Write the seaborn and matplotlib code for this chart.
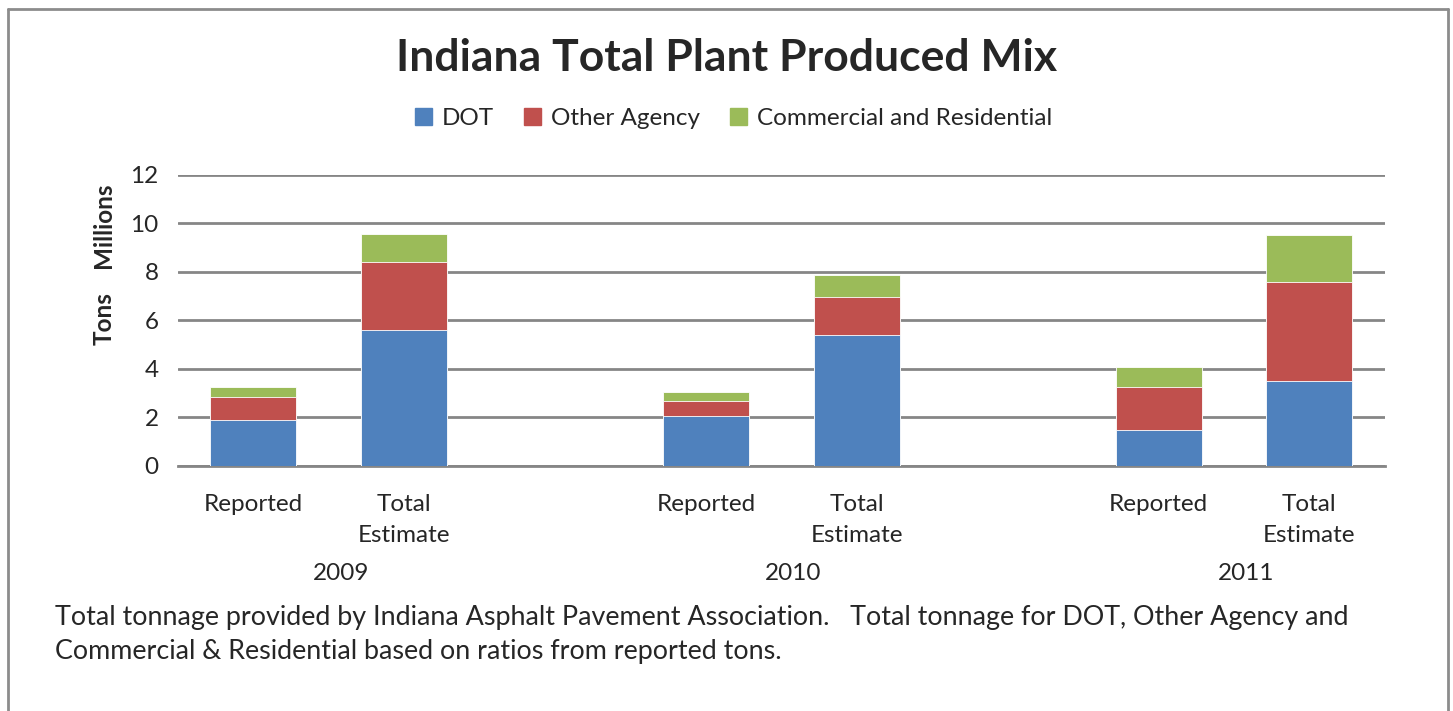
import matplotlib
matplotlib.use("Agg")
import matplotlib.pyplot as plt
import numpy as np
import pandas as pd
import seaborn as sns
from matplotlib.lines import Line2D

# data (millions of tons)
years = ["2009", "2010", "2011"]
kinds = ["Reported", "Total\nEstimate"]
dot = [1.91, 5.62, 2.08, 5.41, 1.48, 3.49]
other_agency = [0.94, 2.79, 0.60, 1.57, 1.76, 4.11]
commercial = [0.41, 1.17, 0.36, 0.90, 0.83, 1.91]

series = ["DOT", "Other Agency", "Commercial and Residential"]
colors = ["#4F81BD", "#C0504D", "#9BBB59"]

# slots: two bars per year plus an empty slot between years
slots = []
for i, y in enumerate(years):
    slots += [f"{y} R", f"{y} T"]
    if i < len(years) - 1:
        slots.append(" " * (i + 1))
bar_slots = [s for s in slots if s.strip() and s[0].isdigit()]

df = pd.DataFrame({"slot": bar_slots, "DOT": dot,
                   "Other Agency": other_agency,
                   "Commercial and Residential": commercial})
df["c1"] = df["DOT"]
df["c2"] = df["c1"] + df["Other Agency"]
df["c3"] = df["c2"] + df["Commercial and Residential"]

sns.set_style("white")
plt.rcParams["font.family"] = ["Lato", "DejaVu Sans"]

fig = plt.figure(figsize=(14.53, 7.11), dpi=100)
ax = fig.add_axes([0.1225, 0.3446, 0.8306, 0.4093])

# stacked look: draw cumulative totals, tallest first
for col, c in zip(["c3", "c2", "c1"], colors[::-1]):
    sns.barplot(data=df, x="slot", y=col, order=slots, color=c,
                width=0.57, saturation=1, ax=ax, zorder=3,
                edgecolor="white", linewidth=0.6)

ax.set_ylim(0, 12)
ax.set_xlim(-0.5, len(slots) - 0.5)
ax.set_yticks(np.arange(0, 13, 2))
ax.tick_params(axis="y", labelsize=17.5, length=0, pad=14)
ax.grid(axis="y", color="#868686", linewidth=2, zorder=0)
for s in ["left", "right", "top"]:
    ax.spines[s].set_visible(False)
ax.spines["bottom"].set_color("#868686")
ax.spines["bottom"].set_linewidth(2)
ax.set_xlabel("")
ax.set_ylabel("")

# category labels
ax.set_xticks([slots.index(s) for s in bar_slots])
ax.set_xticklabels(kinds * len(years), fontsize=17.5, va="top",
                   linespacing=1.6)
ax.tick_params(axis="x", length=0, pad=20)
for y in years:
    mid = (slots.index(f"{y} R") + slots.index(f"{y} T")) / 2 + 0.08
    ax.text(mid, -4.45, y, ha="center", va="center", fontsize=17.5)

# axis titles
fig.text(0.0715, 0.5516, "Tons", rotation=90, ha="center", va="center",
         fontsize=17.5, fontweight="bold")
fig.text(0.0715, 0.6835, "Millions", rotation=90, ha="center",
         va="center", fontsize=17.5, fontweight="bold")

fig.suptitle("Indiana Total Plant Produced Mix", y=0.918, va="center",
             fontsize=32, fontweight="bold")

handles = [plt.Rectangle((0, 0), 1, 1, color=c) for c in colors]
fig.legend(handles, series, loc="center", bbox_to_anchor=(0.505, 0.833),
           ncol=3, frameon=False, fontsize=17.5, handlelength=0.7,
           handleheight=0.7, handletextpad=0.4, columnspacing=1.25)

fig.text(0.038, 0.1076,
         "Total tonnage provided by Indiana Asphalt Pavement Association."
         "   Total tonnage for DOT, Other Agency and\n"
         "Commercial & Residential based on ratios from reported tons.",
         ha="left", va="center", fontsize=19.4, linespacing=1.42)

# outer border
bx0, bx1, by1 = 7.5 / 1453, 1448 / 1453, 1 - 9 / 711
for xs, ys in [([bx0, bx0], [0, by1]), ([bx0, bx1], [by1, by1]),
               ([bx1, bx1], [by1, 0])]:
    fig.add_artist(Line2D(xs, ys, transform=fig.transFigure,
                          color="#8c8c8c", linewidth=2))

fig.savefig("out.png", dpi=100)
